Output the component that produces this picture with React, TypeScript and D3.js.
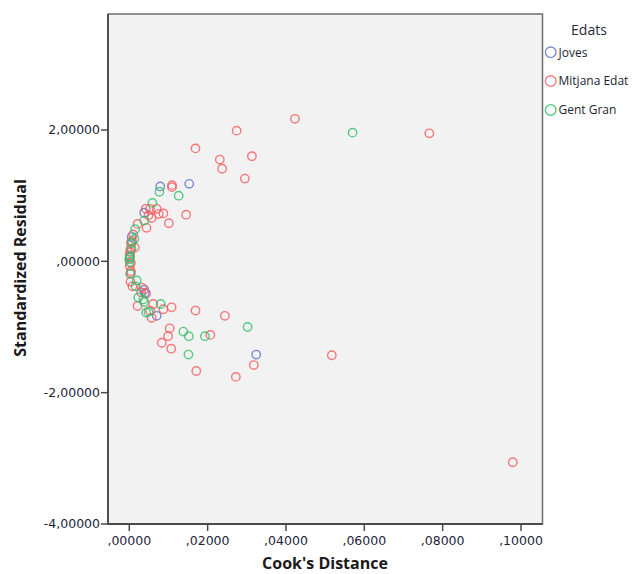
import React from "react";
import * as d3 from "d3";

const groups = ["Joves", "Mitjana Edat", "Gent Gran"];
const groupColors = ["#5b6fc0", "#f5585e", "#2fbf68"];
const legendColors = ["#7f8fd0", "#f77a7f", "#4ccb7e"];

const jovesX = [0.0153, 0.0079, 0.0038, 0.0006, 0.0040, 0.0070, 0.0324, 0.0001, 0.0038];
const jovesY = [1.18, 1.14, 0.74, 0.37, -0.48, -0.83, -1.42, 0.06, -0.43];

const mitjanaX = [
  0.0423, 0.0274, 0.0766, 0.0169, 0.0231, 0.0313, 0.0237, 0.0295, 0.0109, 0.0109,
  0.0145, 0.0101, 0.0044, 0.0042, 0.0053, 0.0070, 0.0087, 0.0075, 0.0057, 0.0049,
  0.0021, 0.0010, 0.0014, 0.0002, 0.0004, 0.0004, 0.0004, 0.0004, 0.0008, 0.0032,
  0.0030, 0.0021, 0.0043, 0.0061, 0.0053, 0.0087, 0.0108, 0.0057, 0.0169, 0.0244,
  0.0103, 0.0099, 0.0083, 0.0107, 0.0207, 0.0171, 0.0272, 0.0318, 0.0517, 0.0979,
  0.0001, 0.0003, 0.0007, 0.0001, 0.0003,
];
const mitjanaY = [
  2.17, 1.99, 1.95, 1.72, 1.55, 1.6, 1.41, 1.26, 1.16, 1.13,
  0.71, 0.58, 0.51, 0.8, 0.8, 0.8, 0.73, 0.72, 0.66, 0.7,
  0.57, 0.41, 0.21, 0.14, 0.28, -0.02, -0.15, -0.18, -0.38, -0.4,
  -0.47, -0.68, -0.49, -0.65, -0.75, -0.73, -0.7, -0.86, -0.75, -0.83,
  -1.02, -1.14, -1.24, -1.33, -1.12, -1.67, -1.76, -1.58, -1.43, -3.06,
  0.09, 0.19, 0.31, -0.07, -0.31,
];

const gentX = [
  0.057, 0.0077, 0.0126, 0.0059, 0.0038, 0.0015, 0.0013, 0.0006, 0.0, 0.0001,
  0.0002, 0.0002, 0.0019, 0.0016, 0.0023, 0.0036, 0.0038, 0.0043, 0.0049, 0.008,
  0.0138, 0.0152, 0.0193, 0.0302, 0.0151, 0.0006,
];
const gentY = [
  1.96, 1.06, 1.0, 0.89, 0.62, 0.49, 0.34, 0.19, 0.03, -0.01,
  0.07, -0.19, -0.29, -0.38, -0.55, -0.58, -0.62, -0.78, -0.77, -0.65,
  -1.07, -1.14, -1.14, -1.0, -1.42, 0.28,
];

const xTicks = [0, 0.02, 0.04, 0.06, 0.08, 0.1];
const yTicks = [-4, -2, 0, 2];

const W = 634;
const H = 574;
const plot = { left: 108, right: 542.5, top: 14, bottom: 524 };

const fmt = (v: number) => {
  const s = d3.format(".5f")(Math.abs(v)).replace(".", ",").replace(/^0,/, ",");
  return (v < 0 ? "-" : "") + s;
};

export default function App() {
  const x = d3.scaleLinear().domain([0, 0.1]).range([129.3, 521]);
  const y = d3.scaleLinear().domain([-4, 2]).range([524, 130]);

  const series = [
    { xs: jovesX, ys: jovesY },
    { xs: mitjanaX, ys: mitjanaY },
    { xs: gentX, ys: gentY },
  ];

  const tickFont = "DejaVu Sans, sans-serif";
  const tickColor = "#1e1e3a";

  return (
    <svg width={W} height={H} style={{ position: "absolute", left: 0, top: 0 }}>
      <rect x={0} y={0} width={W} height={H} fill="#ffffff" />
      <rect
        x={plot.left}
        y={plot.top}
        width={plot.right - plot.left}
        height={plot.bottom - plot.top}
        fill="#f2f2f2"
        stroke="#6e6e6e"
        strokeWidth={1.5}
      />
      <line x1={plot.left} x2={plot.left} y1={plot.top} y2={plot.bottom} stroke="#4a4a4a" strokeWidth={1.8} />
      <line x1={plot.left} x2={plot.right} y1={plot.bottom} y2={plot.bottom} stroke="#4a4a4a" strokeWidth={1.8} />

      {yTicks.map((t) => (
        <g key={"y" + t}>
          <line x1={plot.left - 7} x2={plot.left} y1={y(t)} y2={y(t)} stroke="#4a4a4a" strokeWidth={1.5} />
          <text
            x={plot.left - 8}
            y={y(t)}
            dy="0.35em"
            textAnchor="end"
            fontFamily={tickFont}
            fontSize={12.5}
            fill={tickColor}
          >
            {fmt(t)}
          </text>
        </g>
      ))}
      {xTicks.map((t) => (
        <g key={"x" + t}>
          <line x1={x(t)} x2={x(t)} y1={plot.bottom} y2={plot.bottom + 7} stroke="#4a4a4a" strokeWidth={1.5} />
          <text
            x={x(t)}
            y={plot.bottom + 21}
            textAnchor="middle"
            fontFamily={tickFont}
            fontSize={12.5}
            fill={tickColor}
          >
            {fmt(t)}
          </text>
        </g>
      ))}

      <text
        x={325}
        y={569}
        textAnchor="middle"
        fontFamily="Open Sans, sans-serif"
        fontWeight="bold"
        fontSize={16}
        fill="#1a1a1a"
      >
        Cook's Distance
      </text>
      <text
        transform="translate(26,268) rotate(-90)"
        textAnchor="middle"
        fontFamily="Open Sans, sans-serif"
        fontWeight="bold"
        fontSize={16}
        fill="#1a1a1a"
      >
        Standardized Residual
      </text>

      <g>
        {series.map((s, gi) =>
          s.xs.map((xv, i) => (
            <circle
              key={gi + "-" + i}
              cx={x(xv)}
              cy={y(s.ys[i])}
              r={4.2}
              fill="none"
              stroke={groupColors[gi]}
              strokeWidth={1.4}
              strokeOpacity={0.8}
            />
          ))
        )}
      </g>

      <text
        x={589}
        y={35}
        textAnchor="middle"
        fontFamily="Open Sans, sans-serif"
        fontSize={14}
        fill="#2a2a3a"
      >
        Edats
      </text>
      {groups.map((g, i) => (
        <g key={g}>
          <circle
            cx={550.7}
            cy={52.3 + i * 28.8}
            r={5.3}
            fill="none"
            stroke={legendColors[i]}
            strokeWidth={1.4}
          />
          <text
            x={558.5}
            y={52.3 + i * 28.8}
            dy="0.36em"
            fontFamily="Open Sans, sans-serif"
            fontSize={12}
            fill="#1e1e2e"
          >
            {g}
          </text>
        </g>
      ))}
    </svg>
  );
}
